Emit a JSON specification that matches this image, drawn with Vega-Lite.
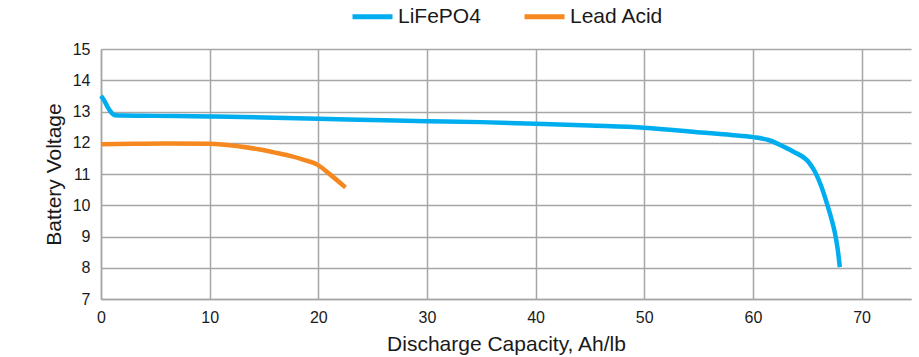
{
  "$schema": "https://vega.github.io/schema/vega-lite/v6.json",
  "width": 810,
  "height": 250,
  "autosize": "none",
  "padding": {"left": 101, "top": 49, "right": 8, "bottom": 58},
  "background": "white",
  "config": {
    "view": {"stroke": null},
    "font": "Liberation Sans",
    "axis": {
      "labelFont": "Liberation Sans",
      "titleFont": "Liberation Sans",
      "labelColor": "#1a1a1a",
      "titleColor": "#1a1a1a",
      "titleFontWeight": "normal",
      "gridColor": "#a6a6a6",
      "gridWidth": 1.5,
      "domainColor": "#a6a6a6",
      "domainWidth": 1.5,
      "ticks": false,
      "tickSize": 0
    }
  },
  "data": {
    "values": [
      {"series": "LiFePO4", "capacity": 0, "voltage": 13.5},
      {"series": "LiFePO4", "capacity": 0.3, "voltage": 13.35},
      {"series": "LiFePO4", "capacity": 0.6, "voltage": 13.15},
      {"series": "LiFePO4", "capacity": 1.0, "voltage": 12.95},
      {"series": "LiFePO4", "capacity": 1.3, "voltage": 12.88},
      {"series": "LiFePO4", "capacity": 2, "voltage": 12.87},
      {"series": "LiFePO4", "capacity": 5, "voltage": 12.86},
      {"series": "LiFePO4", "capacity": 10, "voltage": 12.84},
      {"series": "LiFePO4", "capacity": 15, "voltage": 12.81},
      {"series": "LiFePO4", "capacity": 20, "voltage": 12.77},
      {"series": "LiFePO4", "capacity": 26, "voltage": 12.72},
      {"series": "LiFePO4", "capacity": 30, "voltage": 12.69},
      {"series": "LiFePO4", "capacity": 35, "voltage": 12.66},
      {"series": "LiFePO4", "capacity": 40, "voltage": 12.61},
      {"series": "LiFePO4", "capacity": 45, "voltage": 12.55},
      {"series": "LiFePO4", "capacity": 50, "voltage": 12.48},
      {"series": "LiFePO4", "capacity": 55.2, "voltage": 12.33},
      {"series": "LiFePO4", "capacity": 58, "voltage": 12.25},
      {"series": "LiFePO4", "capacity": 60, "voltage": 12.18},
      {"series": "LiFePO4", "capacity": 61.5, "voltage": 12.08},
      {"series": "LiFePO4", "capacity": 62.8, "voltage": 11.88},
      {"series": "LiFePO4", "capacity": 63.7, "voltage": 11.72},
      {"series": "LiFePO4", "capacity": 65.2, "voltage": 11.35},
      {"series": "LiFePO4", "capacity": 65.7, "voltage": 11.08},
      {"series": "LiFePO4", "capacity": 66.3, "voltage": 10.6},
      {"series": "LiFePO4", "capacity": 66.8, "voltage": 10.07},
      {"series": "LiFePO4", "capacity": 67.2, "voltage": 9.6},
      {"series": "LiFePO4", "capacity": 67.55, "voltage": 9.11},
      {"series": "LiFePO4", "capacity": 67.8, "voltage": 8.6},
      {"series": "LiFePO4", "capacity": 68.0, "voltage": 8.02},
      {"series": "Lead Acid", "capacity": 0, "voltage": 11.95},
      {"series": "Lead Acid", "capacity": 3, "voltage": 11.97},
      {"series": "Lead Acid", "capacity": 6, "voltage": 11.98},
      {"series": "Lead Acid", "capacity": 10, "voltage": 11.97},
      {"series": "Lead Acid", "capacity": 12.8, "voltage": 11.88},
      {"series": "Lead Acid", "capacity": 14.5, "voltage": 11.79},
      {"series": "Lead Acid", "capacity": 16.2, "voltage": 11.67},
      {"series": "Lead Acid", "capacity": 17.5, "voltage": 11.57},
      {"series": "Lead Acid", "capacity": 18.6, "voltage": 11.46},
      {"series": "Lead Acid", "capacity": 19.9, "voltage": 11.3},
      {"series": "Lead Acid", "capacity": 21.1, "voltage": 10.98},
      {"series": "Lead Acid", "capacity": 22.5, "voltage": 10.57}
    ]
  },
  "mark": {"type": "line", "interpolate": "monotone", "strokeWidth": 4.5, "strokeCap": "butt"},
  "encoding": {
    "x": {
      "field": "capacity",
      "type": "quantitative",
      "scale": {"domain": [0, 74.55], "nice": false, "zero": false},
      "axis": {
        "values": [0, 10, 20, 30, 40, 50, 60, 70],
        "title": "Discharge Capacity, Ah/lb",
        "labelFontSize": 16,
        "labelPadding": 10,
        "titleFontSize": 21,
        "titleBaseline": "alphabetic",
        "titleY": 51,
        "labelFlush": false
      }
    },
    "y": {
      "field": "voltage",
      "type": "quantitative",
      "scale": {"domain": [7, 15], "nice": false, "zero": false},
      "axis": {
        "values": [7, 8, 9, 10, 11, 12, 13, 14, 15],
        "title": "Battery Voltage",
        "labelFontSize": 16,
        "labelPadding": 11,
        "titleFontSize": 21,
        "titleBaseline": "alphabetic",
        "titleX": -41,
        "labelFlush": false
      }
    },
    "color": {
      "field": "series",
      "type": "nominal",
      "scale": {"domain": ["LiFePO4", "Lead Acid"], "range": ["#00aeef", "#f5891f"]},
      "legend": {
        "title": null,
        "orient": "none",
        "direction": "horizontal",
        "legendX": 249,
        "legendY": -55,
        "symbolType": "stroke",
        "symbolSize": 1600,
        "symbolStrokeWidth": 5,
        "labelFontSize": 21,
        "labelFont": "Liberation Sans",
        "labelColor": "#1a1a1a",
        "labelOffset": 3,
        "columnPadding": 33,
        "padding": 0
      }
    }
  }
}
